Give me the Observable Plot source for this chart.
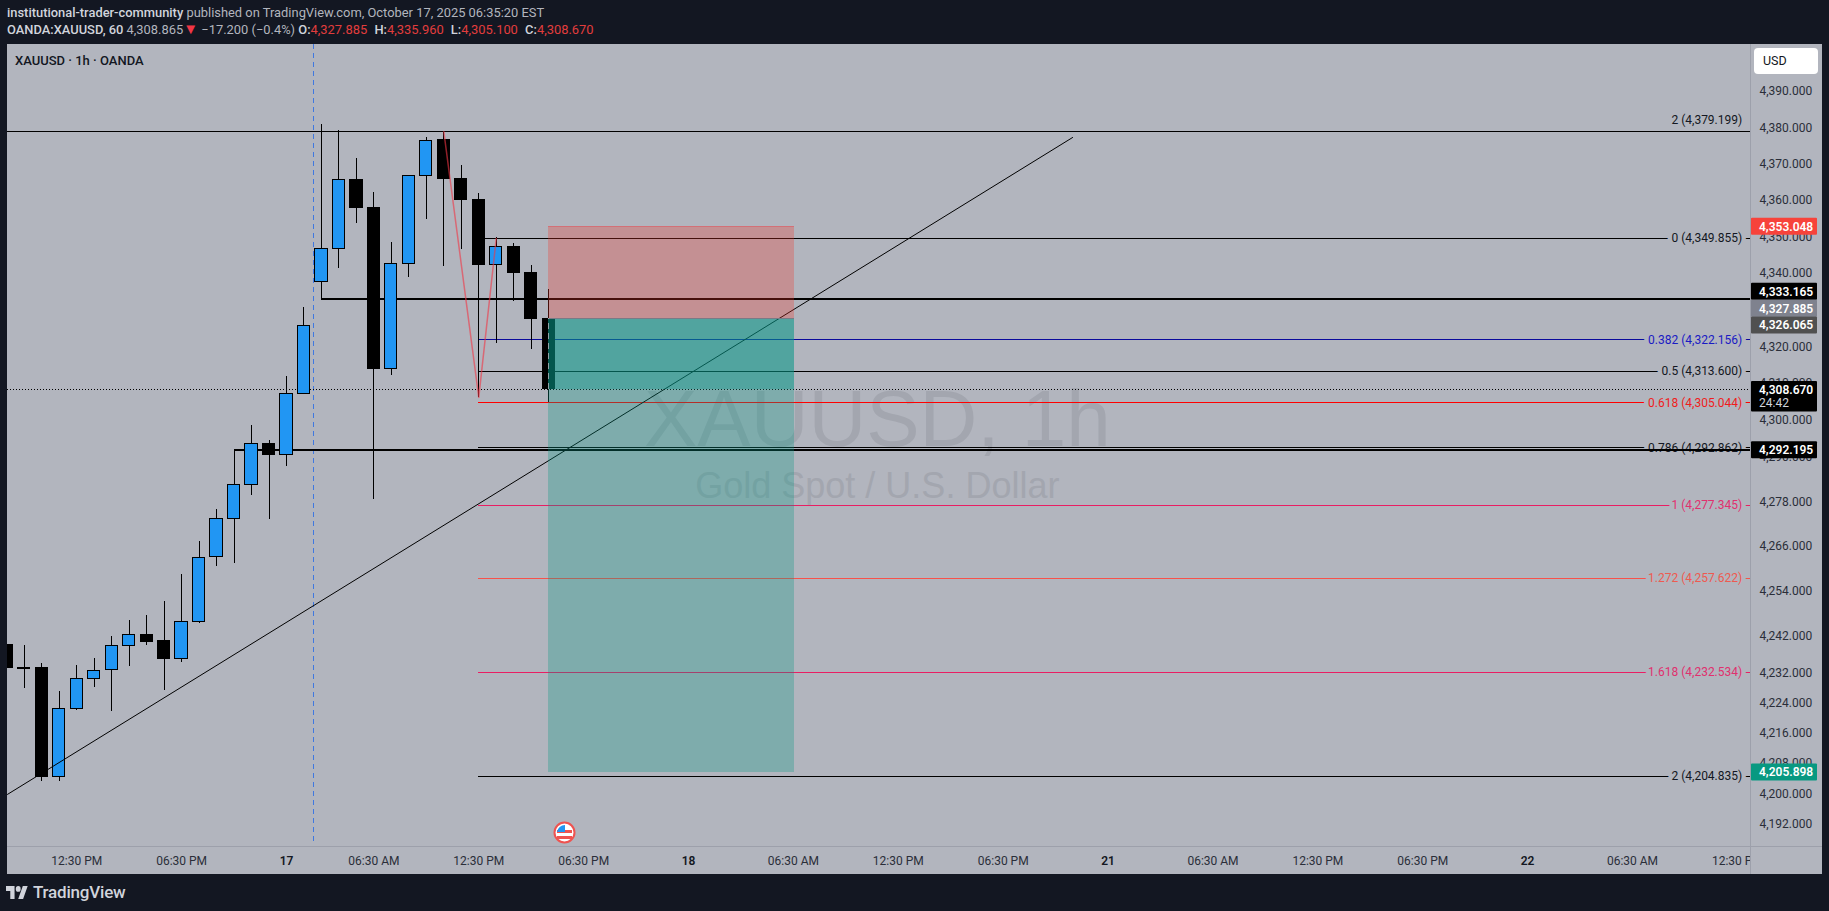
<!DOCTYPE html>
<html>
<head>
<meta charset="utf-8">
<script src="https://cdn.jsdelivr.net/npm/d3@7"></script>
<script src="https://cdn.jsdelivr.net/npm/@observablehq/plot@0.6"></script>
<style>
html,body{margin:0;padding:0;background:#131722;width:1829px;height:911px;overflow:hidden;font-family:Roboto,sans-serif;}
.hd{position:absolute;left:7px;color:#b2b5be;font-size:12.9px;white-space:pre;line-height:16px;}
.hd b{color:#d1d4dc;font-weight:500;}
.hd b.g{margin-left:4px;}
.hd i{font-style:normal;color:#e23d3d;}
.hd u{text-decoration:none;color:#f23645;font-size:15px;line-height:14px;}
#panel{position:absolute;left:7px;top:44px;width:1815px;height:830px;}
#legend{position:absolute;left:15px;top:53px;font-size:13px;font-weight:500;color:#131722;}
#usd{position:absolute;left:1754px;top:48px;width:64px;height:26px;background:#fff;border-radius:4px;font-size:12.5px;color:#131722;line-height:26px;text-indent:9px;}
#brand{position:absolute;left:33px;top:882px;font-size:17px;font-weight:500;color:#d1d4dc;letter-spacing:-.2px;}
svg.abs{position:absolute;}
</style>
</head>
<body>
<div class="hd" style="top:5px"><b>institutional-trader-community</b> published on TradingView.com, October 17, 2025 06:35:20 EST</div>
<div class="hd" style="top:22px"><b>OANDA:XAUUSD, 60</b> 4,308.865<u>▼</u> −17.200 (−0.4%) <b>O:</b><i>4,327.885</i> <b class="g">H:</b><i>4,335.960</i> <b class="g">L:</b><i>4,305.100</i> <b class="g">C:</b><i>4,308.670</i></div>
<div id="panel"></div>
<div id="legend">XAUUSD · 1h · OANDA</div>
<div id="usd">USD</div>
<svg class="abs" style="left:553px;top:821px" width="23" height="23" viewBox="0 0 23 23">
  <circle cx="11.5" cy="11.5" r="10" fill="#fff" stroke="#ef5350" stroke-width="2"/>
  <rect x="4" y="9" width="15" height="3" fill="#ef5350"/>
  <rect x="4" y="15" width="15" height="3" fill="#ef5350"/>
  <path d="M4 11 A8 8 0 0 1 12 4 V11 Z" fill="#2196f3"/>
</svg>
<svg class="abs" style="left:6px;top:886px" width="22" height="13" viewBox="0 4 36 18" fill="#d1d4dc" preserveAspectRatio="none">
  <path d="M14 22H7V11H0V4h14v18zM28 22h-8l7.5-18h8L28 22z"/><circle cx="20" cy="8" r="4"/>
</svg>
<div id="brand">TradingView</div>
<script>
const opens  = [4239.7,4233.7,4233.6,4204.6,4222.8,4230.8,4233.2,4239.5,4242.6,4240.8,4236.0,4245.9,4263.5,4273.7,4282.8,4294.0,4291.0,4307.5,4337.9,4347.0,4366.0,4358.3,4314.3,4342.9,4366.9,4376.8,4366.3,4360.3,4342.5,4347.6,4340.5,4327.885];
const highs  = [4239.7,4239.7,4234.9,4227.4,4234.3,4236.2,4242.1,4246.4,4247.7,4251.5,4258.7,4267.6,4276.2,4292.4,4298.9,4294.8,4312.2,4331.0,4381.2,4379.5,4371.8,4362.5,4348.7,4367.1,4377.5,4379.1,4369.9,4362.2,4350.0,4348.4,4342.4,4335.96];
const lows   = [4233.6,4228.3,4203.6,4203.6,4222.4,4228.6,4222.1,4234.1,4239.7,4227.8,4235.1,4245.7,4260.9,4261.7,4280.0,4273.6,4287.9,4307.5,4333.1,4341.7,4354.0,4279.0,4312.4,4339.2,4355.1,4342.2,4346.9,4306.5,4321.2,4332.7,4319.6,4305.1];
const closes = [4233.6,4233.3,4204.6,4222.8,4230.8,4232.9,4239.6,4242.5,4240.6,4236.0,4246.0,4263.2,4273.7,4282.8,4293.9,4290.8,4307.5,4326.0,4347.0,4366.0,4358.1,4314.2,4342.9,4367.1,4376.7,4366.1,4360.3,4342.5,4347.6,4340.3,4327.8,4308.67];

const fibRatios = ["0","0.382","0.5","0.618","0.786","1","1.272","1.618","2"];
const fibPrices = [4349.855,4322.156,4313.600,4305.044,4292.862,4277.345,4257.622,4232.534,4204.835];
const fibColors = ["#000000","#0a0a9c","#000000","#ff0000","#000000","#e91e63","#f7524a","#e91e63","#000000"];
const fibTextColors = ["#131722","#1a1ac4","#131722","#f01c1c","#131722","#e0306e","#ee5a50","#e0306e","#131722"];
const topFibRatio = "2", topFibPrice = 4379.199;

const thickLevels = [4333.165,4292.195];
const thickStarts = [18,13];

const yTicks = [4390,4380,4370,4360,4350,4340,4320,4310,4300,4290,4278,4266,4254,4242,4232,4224,4216,4208,4200,4192];
const hourTicks = [4,10,21,27,33,45,51,57,69,75,81,93,99];
const hourLabels = ["12:30 PM","06:30 PM","06:30 AM","12:30 PM","06:30 PM","06:30 AM","12:30 PM","06:30 PM","06:30 AM","12:30 PM","06:30 PM","06:30 AM","12:30 PM"];
const dayTicks = [16,39,63,87];
const dayLabels = ["17","18","21","22"];

const entryPrice = 4327.885, stopPrice = 4353.048, targetPrice = 4205.898, lastClose = 4308.670;
const zigzagBars = [25,27,28];
const zigzagPrices = [4379.199,4306.5,4349.855];
const trendBars = [0.04,60.97];
const trendPrices = [4200.1,4377.6];
const tagPrices = [4353.048,4333.165,4327.885,4326.065,4308.670,4292.195,4205.898];
const tagTexts  = ["4,353.048","4,333.165","4,327.885","4,326.065","4,308.670","4,292.195","4,205.898"];
const tagColors = ["#f7433b","#000000","#7f828e","#505050","#000000","#000000","#089981"];

const bars = opens.map((o,i)=>({i,o,h:highs[i],l:lows[i],c:closes[i]}));
const fibs = fibPrices.map((p,i)=>({p,r:fibRatios[i],color:fibColors[i],tc:fibTextColors[i],label:`${fibRatios[i]} (${d3.format(",.3f")(p)})`}));
const pane = "#b2b5be", font = "Roboto, sans-serif";
const left = 0.04, right = 99.75, posEnd = 45.05, posStart = 31;
const top_ = 4403.33, bot_ = 4186.33;
const ink = "#131722";
const crisp = {shapeRendering:"crispEdges"};

const plot = Plot.plot({
  width:1815,height:830,marginLeft:0,marginRight:72,marginTop:0,marginBottom:28,
  style:{background:pane,fontFamily:font,fontSize:"12px",display:"block"},
  x:{domain:[left,right],axis:null},
  y:{type:"log",domain:[bot_,top_],axis:null},
  marks:[
    Plot.text(["XAUUSD, 1h"],{x:()=>49.8,y:()=>4300.2,text:d=>d,fontSize:80,fontFamily:"Liberation Sans",fill:"#a3a6af"}),
    Plot.text(["Gold Spot / U.S. Dollar"],{x:()=>49.8,y:()=>4282.4,text:d=>d,fontSize:36,fontFamily:"Liberation Sans",fill:"#a3a6af"}),
    Plot.ruleX([17.52],{y1:top_,y2:4187.64,stroke:"#3f78e0",strokeWidth:1,strokeDasharray:"5,4",...crisp}),
    Plot.ruleY([topFibPrice],{x1:left,x2:right,stroke:"#000",strokeWidth:1,...crisp}),
    Plot.text([topFibRatio+" ("+d3.format(",.3f")(topFibPrice)+")"],{x:()=>right,y:()=>topFibPrice,dx:-8.3,dy:-12,text:d=>d,textAnchor:"end",fill:ink}),
    Plot.ruleY(fibs,{y:"p",x1:27,x2:right,stroke:"color",strokeWidth:1,...crisp}),
    Plot.text(fibs,{x:()=>right,y:"p",dx:-8.3,text:"label",textAnchor:"end",fill:"tc",stroke:pane,strokeWidth:9}),
    Plot.ruleY(thickLevels,{y:d=>d,x1:(d,i)=>thickStarts[i],x2:right,stroke:"#000",strokeWidth:2,...crisp}),
    Plot.ruleY([lastClose],{x1:left,x2:right,stroke:"#000",strokeWidth:1,strokeDasharray:"1,2",...crisp}),
    Plot.ruleX(bars,{x:"i",y1:"l",y2:"h",stroke:"#000",strokeWidth:1,...crisp}),
    Plot.rect(bars,{x1:d=>d.i-0.35,x2:d=>d.i+0.35,y1:"o",y2:"c",fill:d=>d.c>=d.o?"#2196f3":"#000",stroke:"#000",strokeWidth:1,...crisp}),
    Plot.line(zigzagBars.map((b,i)=>({b,p:zigzagPrices[i]})),{x:"b",y:"p",stroke:"#f23645",strokeOpacity:.6,strokeWidth:1.5}),
    Plot.line(trendBars.map((b,i)=>({b,p:trendPrices[i]})),{x:"b",y:"p",stroke:"#000",strokeWidth:1}),
    Plot.rect([0],{x1:posStart,x2:posEnd,y1:entryPrice,y2:stopPrice,fill:"#f23628",fillOpacity:.29,...crisp}),
    Plot.rect([0],{x1:posStart,x2:posEnd,y1:targetPrice,y2:entryPrice,fill:"#089986",fillOpacity:.3,...crisp}),
    Plot.rect([0],{x1:posStart,x2:posEnd,y1:lastClose,y2:entryPrice,fill:"#08998c",fillOpacity:.38,...crisp}),
    Plot.ruleY([stopPrice],{x1:posStart,x2:posEnd,stroke:"#f23645",strokeOpacity:.35,strokeWidth:1,...crisp}),
    Plot.ruleY([entryPrice],{x1:posStart,x2:posEnd,stroke:"#787b86",strokeWidth:1,...crisp}),
    Plot.ruleX([posStart],{y1:lastClose,y2:entryPrice,stroke:"#b2b5be",strokeOpacity:.8,strokeWidth:1,strokeDasharray:"6,4",...crisp}),
    Plot.axisX({ticks:hourTicks,tickFormat:d=>hourLabels[hourTicks.indexOf(d)],anchor:"bottom",tickSize:0,tickPadding:9.5,label:null,fill:"#2a2e39",fontSize:12}),
    Plot.axisX({ticks:dayTicks,tickFormat:d=>dayLabels[dayTicks.indexOf(d)],anchor:"bottom",tickSize:0,tickPadding:9.5,label:null,fill:"#131722",fontSize:12,fontWeight:600}),
    (index,scales,values,dim)=>{
      const g=d3.create("svg:g").attr("shape-rendering","crispEdges");
      g.append("rect").attr("x",dim.width-dim.marginRight).attr("y",0).attr("width",dim.marginRight).attr("height",dim.height).attr("fill",pane);
      g.append("line").attr("x1",dim.width-dim.marginRight+.5).attr("x2",dim.width-dim.marginRight+.5).attr("y1",0).attr("y2",dim.height).attr("stroke","#9da0ab");
      g.append("line").attr("x1",0).attr("x2",dim.width).attr("y1",dim.height-dim.marginBottom+.5).attr("y2",dim.height-dim.marginBottom+.5).attr("stroke","#9da0ab");
      return g.node();
    },
    Plot.axisY({ticks:yTicks,anchor:"right",tickSize:0,tickPadding:9,label:null,tickFormat:d3.format(",.3f"),fill:"#2a2e39",fontSize:12,dy:-1}),
    (index,scales,values,dim)=>{
      const g=d3.create("svg:g").attr("font-family",font).attr("font-size",12).attr("font-weight",600).attr("text-anchor","start");
      const X=dim.width-dim.marginRight+1;
      const shift=[0,-7.6,-9.9,0,0.5,0,0];
      tagPrices.forEach((p,i)=>{
        const cy=scales.y(p)+shift[i];
        const timer=i===4;
        const y0=cy-8.5, h=timer?30.5:17;
        g.append("rect").attr("x",X).attr("y",y0).attr("width",66).attr("height",h).attr("rx",1).attr("fill",tagColors[i]);
        g.append("text").attr("x",X+8).attr("y",cy+4.4).attr("fill","#fff").text(tagTexts[i]);
        if(timer) g.append("text").attr("x",X+8).attr("y",cy+18).attr("fill","#d1d4dc").attr("font-weight",400).text("24:42");
      });
      return g.node();
    }
  ]
});
document.getElementById("panel").appendChild(plot);
</script>
</body>
</html>
